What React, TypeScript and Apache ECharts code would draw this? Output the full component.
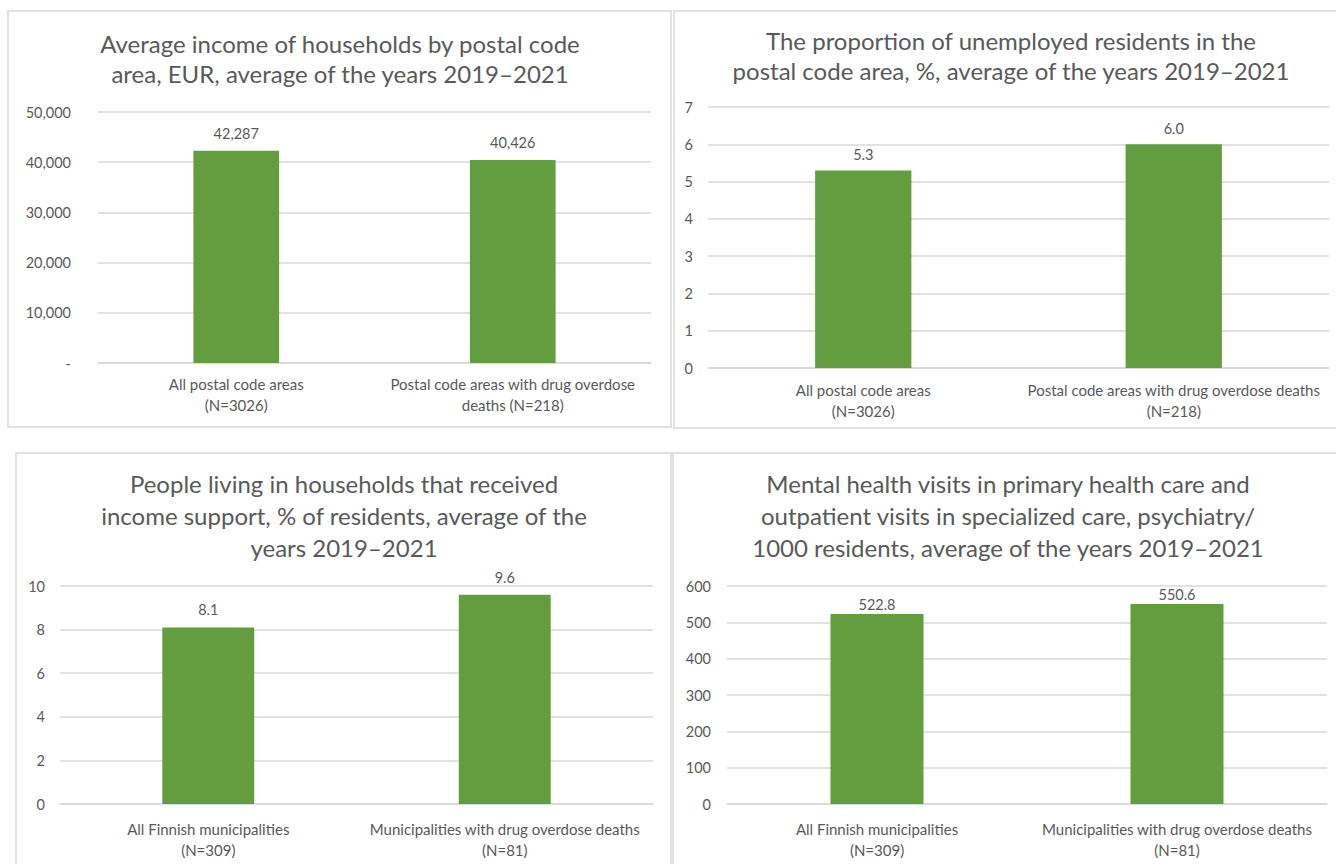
import React, { useEffect, useRef } from "react";
import * as echarts from "echarts";

const titles = [
  "Average income of households by postal code\narea, EUR, average of the years 2019\u20132021",
  "The proportion of unemployed residents in the\npostal code area, %, average of the years 2019\u20132021",
  "People living in households that received\nincome support, % of residents, average of the\nyears 2019\u20132021",
  "Mental health visits in primary health care and\noutpatient visits in specialized care, psychiatry/\n1000 residents, average of the years 2019\u20132021",
];

const categoriesPostal = [
  "All postal code areas\n(N=3026)",
  "Postal code areas with drug overdose\ndeaths (N=218)",
];
const categoriesPostal2 = [
  "All postal code areas\n(N=3026)",
  "Postal code areas with drug overdose deaths\n(N=218)",
];
const categoriesMunicipal = [
  "All Finnish municipalities\n(N=309)",
  "Municipalities with drug overdose deaths\n(N=81)",
];

const incomeValues = [42287, 40426];
const unemployedValues = [5.3, 6.0];
const incomeSupportValues = [8.1, 9.6];
const mentalHealthValues = [522.8, 550.6];

const yMax = [50000, 7, 10, 600];
const yInterval = [10000, 1, 2, 100];

const FONT = "Lato, 'Open Sans', sans-serif";
const TEXT = "#595959";
const GRID = "#d9d9d9";
const BAR = "#639d3f";

export default function App() {
  const ref = useRef<HTMLDivElement>(null);

  useEffect(() => {
    if (!ref.current) return;
    const chart = echarts.init(ref.current, undefined, { renderer: "svg" });

    const grids = [
      { left: 98, width: 553, top: 112, height: 251 },
      { left: 708, width: 621, top: 107, height: 261 },
      { left: 60, width: 593, top: 586, height: 218 },
      { left: 727, width: 600, top: 586, height: 218 },
    ];
    const cats = [categoriesPostal, categoriesPostal2, categoriesMunicipal, categoriesMunicipal];
    const vals = [incomeValues, unemployedValues, incomeSupportValues, mentalHealthValues];
    const yMargins = [27, 15, 15, 16];
    const xMargins = [10, 11, 14, 14];
    const labelDist = [10, 8, 10, 2];
    const titlePos = [
      { x: 340, y: 28, lh: 30 },
      { x: 1011, y: 25, lh: 30 },
      { x: 344, y: 467, lh: 32 },
      { x: 1008, y: 467, lh: 32 },
    ];

    const fmtY = (i: number) => (v: number) => {
      if (i === 0) return v === 0 ? "-" : v.toLocaleString("en-US");
      return String(v);
    };
    const fmtLabel = (i: number) => (p: any) => {
      const v = p.value as number;
      if (i === 0) return v.toLocaleString("en-US");
      return v.toFixed(1);
    };

    const option: any = {
      animation: false,
      backgroundColor: "#ffffff",
      title: titles.map((t, i) => ({
        text: t,
        left: titlePos[i].x,
        top: titlePos[i].y,
        textAlign: "center",
        padding: 0,
        textStyle: {
          fontFamily: FONT,
          fontSize: 24,
          fontWeight: "normal",
          color: TEXT,
          lineHeight: titlePos[i].lh,
        },
      })),
      graphic: [
        { type: "rect", shape: { x: 8, y: 11, width: 663, height: 416 }, style: { fill: "none", stroke: GRID, lineWidth: 1.5 }, z: -1 },
        { type: "rect", shape: { x: 674, y: 11, width: 680, height: 417 }, style: { fill: "none", stroke: GRID, lineWidth: 1.5 }, z: -1 },
        { type: "rect", shape: { x: 16, y: 453, width: 655, height: 430 }, style: { fill: "none", stroke: GRID, lineWidth: 1.5 }, z: -1 },
        { type: "rect", shape: { x: 673, y: 453, width: 680, height: 430 }, style: { fill: "none", stroke: GRID, lineWidth: 1.5 }, z: -1 },
      ],
      grid: grids.map((g) => ({ ...g, containLabel: false })),
      xAxis: cats.map((c, i) => ({
        type: "category",
        gridIndex: i,
        data: c,
        axisTick: { show: false },
        axisLine: { show: true, lineStyle: { color: GRID, width: 1.5 } },
        axisLabel: {
          interval: 0,
          margin: xMargins[i],
          fontFamily: FONT,
          fontSize: 15,
          lineHeight: 21,
          color: TEXT,
        },
      })),
      yAxis: vals.map((_, i) => ({
        type: "value",
        gridIndex: i,
        min: 0,
        max: yMax[i],
        interval: yInterval[i],
        axisLine: { show: false },
        axisTick: { show: false },
        splitLine: { lineStyle: { color: GRID, width: 1.5 } },
        axisLabel: {
          margin: yMargins[i],
          fontFamily: FONT,
          fontSize: 14.5,
          color: TEXT,
          formatter: fmtY(i),
        },
      })),
      series: vals.map((v, i) => ({
        type: "bar",
        xAxisIndex: i,
        yAxisIndex: i,
        data: v,
        barWidth: "31%",
        itemStyle: { color: BAR },
        label: {
          show: true,
          position: "top",
          distance: labelDist[i],
          fontFamily: FONT,
          fontSize: 14.5,
          color: TEXT,
          formatter: fmtLabel(i),
        },
      })),
    };

    chart.setOption(option);
    return () => chart.dispose();
  }, []);

  return (
    <div
      ref={ref}
      style={{ position: "fixed", left: 0, top: 0, width: 1336, height: 864, background: "#fff" }}
    />
  );
}
